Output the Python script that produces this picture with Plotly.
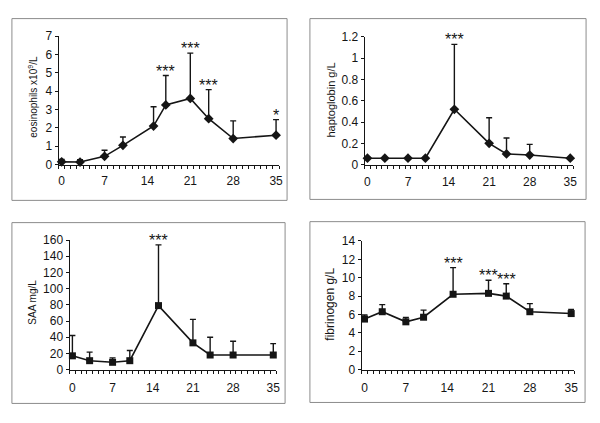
import plotly.graph_objects as go

# ---------------- data ----------------
eos_days = [0, 3, 7, 10, 15, 17, 21, 24, 28, 35]
eos_mean = [0.15, 0.14, 0.45, 1.05, 2.1, 3.25, 3.6, 2.5, 1.42, 1.6]
eos_sd = [0.13, 0.13, 0.33, 0.45, 1.05, 1.6, 2.47, 1.58, 0.96, 0.85]
eos_sig = ["", "", "", "", "", "***", "***", "***", "", "*"]

hap_days = [0, 3, 7, 10, 15, 21, 24, 28, 35]
hap_mean = [0.06, 0.06, 0.06, 0.06, 0.52, 0.20, 0.10, 0.09, 0.06]
hap_sd = [0.01, 0.005, 0.005, 0.005, 0.61, 0.24, 0.15, 0.10, 0.005]
hap_sig = ["", "", "", "", "***", "", "", "", ""]

saa_days = [0, 3, 7, 10, 15, 21, 24, 28, 35]
saa_mean = [17, 11, 9, 11, 79, 33, 18, 18, 18]
saa_sd = [25, 10.5, 5.5, 12.5, 75, 29, 22, 17, 14]
saa_sig = ["", "", "", "", "***", "", "", "", ""]

fib_days = [0, 3, 7, 10, 15, 21, 24, 28, 35]
fib_mean = [5.5, 6.3, 5.2, 5.7, 8.2, 8.3, 8.0, 6.3, 6.1]
fib_sd = [0.45, 0.77, 0.47, 0.77, 2.9, 1.43, 1.35, 0.88, 0.45]
fib_sig = ["", "", "", "", "***", "***", "***", "", ""]

x_labels = [0, 7, 14, 21, 28, 35]
x_minor = [k - 0.5 for k in range(37)]

W, H = 600, 423
INK = "#151515"
FONT = "Liberation Sans, Arial, sans-serif"

panels = [
    dict(days=eos_days, mean=eos_mean, sd=eos_sd, sig=eos_sig, symbol="diamond", msize=7.5,
         yrange=[0, 7], dtick=1, title="eosinophils x10<sup>9</sup>/L", tsize=10,
         px=(59, 281), py=(30, 163), title_pos=(33, 93), box=(12, 12, 289, 200), xlen=5),
    dict(days=hap_days, mean=hap_mean, sd=hap_sd, sig=hap_sig, symbol="diamond", msize=7.5,
         yrange=[0, 1.2], dtick=0.2, title="haptoglobin g/L", tsize=11,
         px=(367, 577), py=(31, 163), title_pos=(333, 96), box=(312, 12, 590, 199), xlen=6),
    dict(days=saa_days, mean=saa_mean, sd=saa_sd, sig=saa_sig, symbol="square", msize=7,
         yrange=[0, 160], dtick=20, title="SAA mg/L", tsize=10,
         px=(70, 278), py=(241, 375), title_pos=(33, 305), box=(12, 223, 287, 410), xlen=7),
    dict(days=fib_days, mean=fib_mean, sd=fib_sd, sig=fib_sig, symbol="square", msize=7,
         yrange=[0, 14], dtick=2, title="fibrinogen g/L", tsize=12,
         px=(364, 578), py=(242, 375), title_pos=(332, 307), box=(312, 222, 589, 409), xlen=7),
]

fig = go.Figure()
layout = dict(
    width=W, height=H, margin=dict(l=0, r=0, t=0, b=0),
    paper_bgcolor="white", plot_bgcolor="white", showlegend=False,
    font=dict(family=FONT, size=12, color=INK),
)
annotations = []
shapes = []

for i, p in enumerate(panels, start=1):
    sx = "" if i == 1 else str(i)
    xa, ya = "x" + sx, "y" + sx
    fig.add_trace(go.Scatter(
        x=p["days"], y=p["mean"], xaxis=xa, yaxis=ya,
        mode="lines+markers",
        line=dict(color=INK, width=1.6),
        marker=dict(symbol=p["symbol"], size=p["msize"], color=INK),
        error_y=dict(type="data", symmetric=False, array=p["sd"],
                     arrayminus=[0] * len(p["sd"]), color=INK,
                     thickness=1.4, width=3),
        cliponaxis=False, hoverinfo="skip",
    ))
    # significance stars above error bar tops
    for d, m, s, t in zip(p["days"], p["mean"], p["sd"], p["sig"]):
        if t:
            annotations.append(dict(
                x=d, y=m + s, xref=xa, yref=ya, text=t, showarrow=False,
                xanchor="center", yanchor="bottom", yshift=-6,
                font=dict(family=FONT, size=16, color=INK)))

    x0, x1 = p["px"]
    ytop, ybot = p["py"]
    layout["xaxis" + sx] = dict(
        domain=[x0 / W, x1 / W], range=[-0.5, 35.5], anchor=ya,
        tickmode="array", tickvals=x_labels, ticktext=[str(v) for v in x_labels],
        ticks="outside", ticklen=p["xlen"], tickcolor="rgba(0,0,0,0)",
        minor=dict(tickmode="array", tickvals=x_minor, ticks="outside",
                   ticklen=3, tickcolor=INK, tickwidth=1),
        showline=True, linecolor=INK, linewidth=1,
        showgrid=False, zeroline=False, fixedrange=True,
        tickfont=dict(family=FONT, size=12, color=INK),
    )
    layout["yaxis" + sx] = dict(
        domain=[1 - ybot / H, 1 - ytop / H], range=p["yrange"], anchor=xa,
        dtick=p["dtick"], tick0=0, ticks="outside", ticklen=3, tickcolor=INK,
        showline=True, linecolor=INK, linewidth=1,
        showgrid=False, zeroline=False, fixedrange=True,
        tickfont=dict(family=FONT, size=12, color=INK),
    )
    tx, ty = p["title_pos"]
    annotations.append(dict(
        x=tx / W, y=1 - ty / H, xref="paper", yref="paper", text=p["title"],
        textangle=-90, showarrow=False, xanchor="center", yanchor="middle",
        font=dict(family=FONT, size=p["tsize"], color=INK)))
    bx0, by0, bx1, by1 = p["box"]
    shapes.append(dict(type="rect", xref="paper", yref="paper",
                       x0=bx0 / W, x1=bx1 / W, y0=1 - by1 / H, y1=1 - by0 / H,
                       line=dict(color="#8c8c8c", width=1), layer="below"))

layout["annotations"] = annotations
layout["shapes"] = shapes
fig.update_layout(**layout)
fig.write_html(
    "out.html",
    config={"displayModeBar": False, "staticPlot": True},
    post_script="document.body.style.margin='0';document.body.style.overflow='hidden';",
)
